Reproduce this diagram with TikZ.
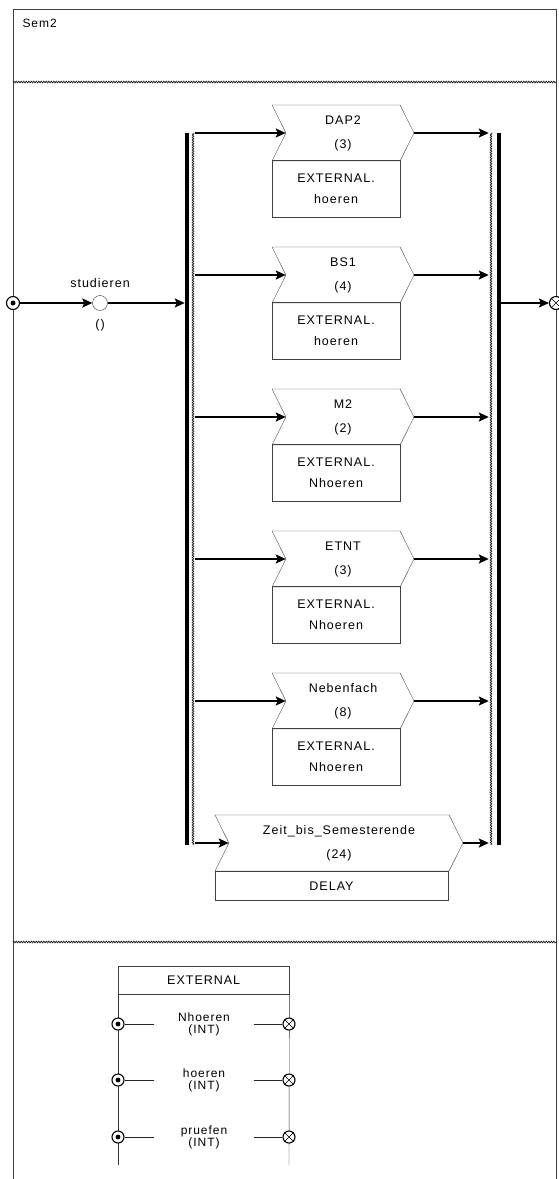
\documentclass[tikz,border=0pt]{standalone}
\usepackage{fontspec}
\setmainfont{Liberation Sans}[LetterSpace=8]
\usetikzlibrary{arrows.meta,shapes.symbols,decorations.pathmorphing}

\begin{document}
\begin{tikzpicture}[x=1pt,y=-1pt]
        \tikzstyle{actbox}=[shape=signal, signal from=west, signal to=east, signal pointer angle=127, draw=black!75, minimum width=142, minimum height=56, inner sep=0, align=center, font=\fontsize{12.5}{24}\selectfont];
        \tikzstyle{extbox}=[rectangle, draw=black!75, minimum width=128, minimum height=57, inner sep=0, align=center, font=\fontsize{12.5}{21}\selectfont];
        \tikzstyle{flowarrow}=[line width=2.6pt, -{Stealth[length=10pt, width=9pt, inset=2pt]}];
        \tikzstyle{syncbar}=[rectangle, fill=black, minimum width=4, minimum height=712, inner sep=0];
        \tikzstyle{wavyline}=[draw=black!85, line width=0.8pt, decorate, decoration={snake, amplitude=0.8pt, segment length=2.5pt}];
        \tikzstyle{portin}=[circle, draw=black, fill=white, minimum size=13, inner sep=0, line width=1.1pt];
        \tikzstyle{varlbl}=[minimum width=100, inner sep=0, align=center, font=\fontsize{12}{12}\selectfont];

        \useasboundingbox (0,0) rectangle (558,1179);

        % frame and the three compartments
        \draw[black!75, line width=1pt] (13,9) rectangle (556,1200);
        \node[anchor=west, font=\fontsize{12}{14}\selectfont] (title) at (19,23) {Sem2};
        \draw[wavyline] (13,82) -- (556,82);
        \draw[wavyline] (13,942) -- (556,942);

        % entry and exit
        \node[portin] (start) at (13,303) {};
        \fill (start.center) circle (2.5);
        \node[portin] (stop) at (556,303) {};
        \draw (stop.north west) -- (stop.south east) (stop.north east) -- (stop.south west);

        \node[circle, draw=black!80, fill=white, minimum size=15, inner sep=0] (stud) at (100,303) {};
        \node[font=\fontsize{12.5}{14}\selectfont] (studlbl) at (100,283) {studieren};
        \node[font=\fontsize{12.5}{14}\selectfont] (studarg) at (100,325) {()};

        % parallel split / join
        \node[syncbar] (fork) at (187,489) {};
        \node[syncbar] (join) at (499,489) {};
        \draw[wavyline] (193,133) -- (193,845);
        \draw[wavyline] (491,133) -- (491,845);

        \draw[flowarrow] (start) -- (stud);
        \draw[flowarrow] (stud) -- (stud -| fork.west);
        \draw[flowarrow] (join.east |- stop) -- (stop);

        \node[actbox] (dap2) at (343,133) {DAP2\\(3)};
        \node[extbox, anchor=north] (dap2ext) at (336,160) {EXTERNAL.\\hoeren};
        \node[actbox] (bs1) at (343,275) {BS1\\(4)};
        \node[extbox, anchor=north] (bs1ext) at (336,302) {EXTERNAL.\\hoeren};
        \node[actbox] (m2) at (343,417) {M2\\(2)};
        \node[extbox, anchor=north] (m2ext) at (336,444) {EXTERNAL.\\Nhoeren};
        \node[actbox] (etnt) at (343,559) {ETNT\\(3)};
        \node[extbox, anchor=north] (etntext) at (336,586) {EXTERNAL.\\Nhoeren};
        \node[actbox] (neben) at (343,701) {Nebenfach\\(8)};
        \node[extbox, anchor=north] (nebenext) at (336,728) {EXTERNAL.\\Nhoeren};
        \node[actbox, minimum width=248] (zeit) at (339,843) {Zeit\_bis\_Semesterende\\(24)};
        \node[extbox, anchor=north, minimum width=233, minimum height=29] (delay) at (331.5,871) {DELAY};

        \draw[flowarrow] ([xshift=6pt]fork.east |- dap2.west) -- (dap2.west);
        \draw[flowarrow] ([xshift=6pt]fork.east |- bs1.west) -- (bs1.west);
        \draw[flowarrow] ([xshift=6pt]fork.east |- m2.west) -- (m2.west);
        \draw[flowarrow] ([xshift=6pt]fork.east |- etnt.west) -- (etnt.west);
        \draw[flowarrow] ([xshift=6pt]fork.east |- neben.west) -- (neben.west);
        \draw[flowarrow] ([xshift=6pt]fork.east |- zeit.west) -- (zeit.west);

        \draw[flowarrow] (dap2.east) -- ([xshift=-8pt]join.west |- dap2.east);
        \draw[flowarrow] (bs1.east) -- ([xshift=-8pt]join.west |- bs1.east);
        \draw[flowarrow] (m2.east) -- ([xshift=-8pt]join.west |- m2.east);
        \draw[flowarrow] (etnt.east) -- ([xshift=-8pt]join.west |- etnt.east);
        \draw[flowarrow] (neben.east) -- ([xshift=-8pt]join.west |- neben.east);
        \draw[flowarrow] (zeit.east) -- ([xshift=-8pt]join.west |- zeit.east);

        % interface EXTERNAL
        \node[extbox, minimum width=171, minimum height=28, anchor=north west] (extif) at (118,966) {EXTERNAL};
        \draw[black!80] (extif.south west) -- (118,1165);
        \draw[black!80] (extif.south east) -- (289,1165);

        \tikzstyle{portin}=[circle, draw=black, fill=white, minimum size=12, inner sep=0, line width=1.1pt];
        \node[portin] (in1) at (118,1024) {};
        \node[portin] (in2) at (118,1080) {};
        \node[portin] (in3) at (118,1137) {};
        \node[portin] (out1) at (289,1024) {};
        \node[portin] (out2) at (289,1080) {};
        \node[portin] (out3) at (289,1137) {};
        \fill (in1.center) circle (2.4);
        \fill (in2.center) circle (2.4);
        \fill (in3.center) circle (2.4);
        \draw (out1.north west) -- (out1.south east) (out1.north east) -- (out1.south west);
        \draw (out2.north west) -- (out2.south east) (out2.north east) -- (out2.south west);
        \draw (out3.north west) -- (out3.south east) (out3.north east) -- (out3.south west);

        \node[varlbl] (var1) at (204,1024) {Nhoeren\\(INT)};
        \node[varlbl] (var2) at (204,1080) {hoeren\\(INT)};
        \node[varlbl] (var3) at (204,1137) {pruefen\\(INT)};
        \draw[black!85] (in1) -- (var1) -- (out1);
        \draw[black!85] (in2) -- (var2) -- (out2);
        \draw[black!85] (in3) -- (var3) -- (out3);

\end{tikzpicture}
\end{document}
